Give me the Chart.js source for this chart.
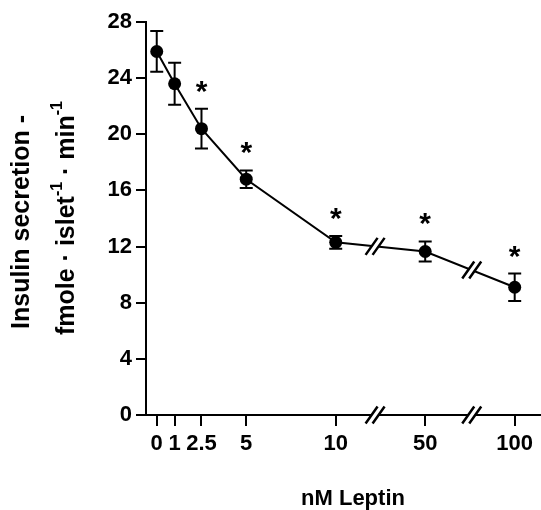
<!DOCTYPE html>
<html>
<head>
<meta charset="utf-8">
<script src="https://cdn.jsdelivr.net/npm/chart.js@4"></script>
<style>html,body{margin:0;padding:0;background:#fff}</style>
</head>
<body>
<canvas id="leptin" width="541" height="510"></canvas>
<script>
var doses = ['0', '1', '2.5', '5', '10', '50', '100'];
var dosePos = [0, 1, 2.5, 5, 10, 15, 20];   // broken axis, 50 and 100 sit past the breaks
var insulin = [25.9, 23.6, 20.4, 16.8, 12.3, 11.65, 9.1];
var sem = [1.45, 1.5, 1.42, 0.62, 0.45, 0.72, 0.98];
var significant = [false, false, true, true, true, true, true];
var axisBreaks = [12.2, 17.6];
var yTicks = [0, 4, 8, 12, 16, 20, 24, 28];

var FONT = 'Liberation Sans, Arial, Helvetica, sans-serif';

function slash(ctx, x, y) {
    ctx.save();
    ctx.fillStyle = '#fff';
    ctx.beginPath();
    ctx.moveTo(x - 9, y + 8.5);
    ctx.lineTo(x + 3, y - 8.5);
    ctx.lineTo(x + 9, y - 8.5);
    ctx.lineTo(x - 3, y + 8.5);
    ctx.closePath();
    ctx.fill();
    ctx.strokeStyle = '#000';
    ctx.lineWidth = 2.5;
    ctx.beginPath();
    ctx.moveTo(x - 9.5, y + 8.5); ctx.lineTo(x + 2.5, y - 8.5);
    ctx.moveTo(x - 2.5, y + 8.5); ctx.lineTo(x + 9.5, y - 8.5);
    ctx.stroke();
    ctx.restore();
}

var extras = {
    id: 'extras',
    afterDatasetsDraw: function (chart) {
        var ctx = chart.ctx, xs = chart.scales.x, ys = chart.scales.y;
        ctx.save();
        ctx.strokeStyle = '#000';
        ctx.lineWidth = 2;
        // error bars
        for (var i = 0; i < insulin.length; i++) {
            var px = xs.getPixelForValue(dosePos[i]);
            var top = ys.getPixelForValue(insulin[i] + sem[i]);
            var bot = ys.getPixelForValue(insulin[i] - sem[i]);
            ctx.beginPath();
            ctx.moveTo(px, top); ctx.lineTo(px, bot);
            ctx.moveTo(px - 6.5, top); ctx.lineTo(px + 6.5, top);
            ctx.moveTo(px - 6.5, bot); ctx.lineTo(px + 6.5, bot);
            ctx.stroke();
            if (significant[i]) {
                ctx.fillStyle = '#000';
                ctx.font = 'bold 30px ' + FONT;
                ctx.textAlign = 'center';
                ctx.textBaseline = 'alphabetic';
                ctx.fillText('*', px, top - 8);
            }
        }
        // breaks on axis and on the curve
        axisBreaks.forEach(function (b) {
            var bx = xs.getPixelForValue(b);
            slash(ctx, bx, ys.bottom);
            for (var j = 0; j < dosePos.length - 1; j++) {
                if (dosePos[j] < b && b < dosePos[j + 1]) {
                    var f = (b - dosePos[j]) / (dosePos[j + 1] - dosePos[j]);
                    var v = insulin[j] + f * (insulin[j + 1] - insulin[j]);
                    slash(ctx, bx, ys.getPixelForValue(v));
                }
            }
        });
        ctx.restore();
    },
    afterDraw: function (chart) {
        var ctx = chart.ctx;
        ctx.save();
        ctx.fillStyle = '#000';
        // x title
        ctx.font = 'bold 22px ' + FONT;
        ctx.textAlign = 'center';
        ctx.textBaseline = 'middle';
        ctx.fillText('nM Leptin', 353, 499);
        // y title, two lines, rotated
        ctx.rotate(-Math.PI / 2);
        ctx.font = 'bold 25px ' + FONT;
        ctx.fillText('Insulin secretion -', -222, 22);
        var parts = [['fmole \u00b7 islet', false], ['-1', true], [' \u00b7 min', false], ['-1', true]];
        var big = 'bold 25px ' + FONT, small = 'bold 16px ' + FONT;
        var w = 0;
        parts.forEach(function (p) { ctx.font = p[1] ? small : big; w += ctx.measureText(p[0]).width; });
        var x = -218 - w / 2;
        ctx.textAlign = 'left';
        parts.forEach(function (p) {
            ctx.font = p[1] ? small : big;
            ctx.fillText(p[0], x, p[1] ? 58 : 67);
            x += ctx.measureText(p[0]).width;
        });
        ctx.restore();
    }
};

new Chart(document.getElementById('leptin').getContext('2d'), {
    type: 'line',
    data: {
        datasets: [{
            data: dosePos.map(function (x, i) { return { x: x, y: insulin[i] }; }),
            borderColor: '#000',
            borderWidth: 2,
            pointRadius: 6.5,
            pointBackgroundColor: '#000',
            pointBorderWidth: 0,
            tension: 0,
            clip: false
        }]
    },
    options: {
        responsive: false,
        animation: false,
        layout: { autoPadding: false, padding: { top: 22, right: 0, left: 0, bottom: 0 } },
        plugins: { legend: { display: false }, tooltip: { enabled: false } },
        scales: {
            x: {
                type: 'linear',
                min: -0.6,
                max: 21.47,
                afterBuildTicks: function (s) { s.ticks = dosePos.map(function (v) { return { value: v }; }); },
                afterFit: function (s) { s.height = 95; s.paddingLeft = 0; s.paddingRight = 0; },
                ticks: {
                    autoSkip: false, maxRotation: 0, padding: 5, color: '#000',
                    font: { family: FONT, size: 22, weight: 'bold' },
                    callback: function (v) { return doses[dosePos.indexOf(v)]; }
                },
                grid: { drawOnChartArea: false, tickLength: 11, lineWidth: 2, color: '#000' },
                border: { color: '#000', width: 2 }
            },
            y: {
                min: 0,
                max: 28,
                afterBuildTicks: function (s) { s.ticks = yTicks.map(function (v) { return { value: v }; }); },
                afterFit: function (s) { s.width = 146; s.paddingTop = 0; s.paddingBottom = 0; },
                ticks: {
                    padding: 4, color: '#000',
                    font: { family: FONT, size: 22, weight: 'bold' }
                },
                grid: { drawOnChartArea: false, tickLength: 10, lineWidth: 2, color: '#000' },
                border: { color: '#000', width: 2 }
            }
        }
    },
    plugins: [extras]
});
</script>
</body>
</html>
